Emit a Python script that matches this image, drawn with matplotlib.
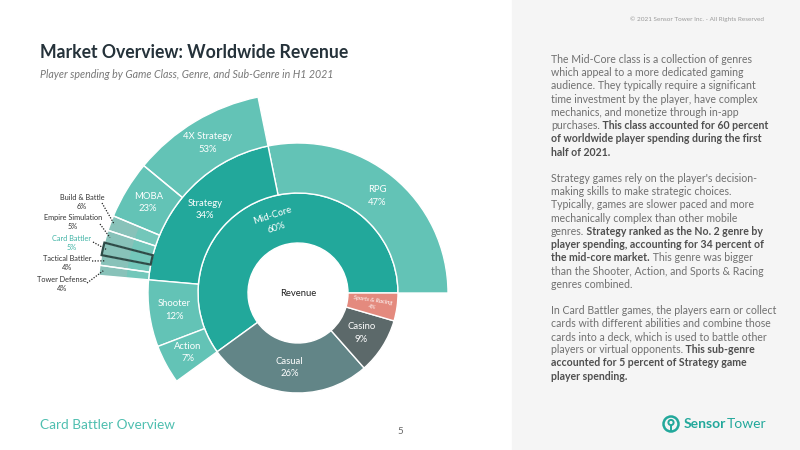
import numpy as np
import matplotlib.pyplot as plt
from matplotlib.patches import Rectangle, Circle

plt.rcParams['font.family'] = ['Lato', 'DejaVu Sans']

# data
classes = ['Mid-Core', 'Casual', 'Casino', 'Sports & Racing']
class_share = [60, 26.5, 9, 4.5]
class_pct = ['60%', '26%', '9%', '4%']

genres = ['RPG', 'Strategy', 'Shooter', 'Action']
genre_share = [47, 34, 12, 7]          # % of Mid-Core

subgenres = ['4X Strategy', 'MOBA', 'Build & Battle', 'Empire Simulation',
             'Card Battler', 'Tactical Battler', 'Tower Defense']
subgenre_share = [53, 23, 6, 5, 5, 4, 4]  # % of Strategy

TEAL = '#22a89b'
LIGHT = '#63c3b6'
class_colors = [TEAL, '#628587', '#5c696a', '#e48a7e']
genre_colors = [LIGHT, TEAL, LIGHT, LIGHT]

W, H = 800, 450
CX, CY = 298, 293
fig = plt.figure(figsize=(8, 4.5), dpi=100)
bg = fig.add_axes([0, 0, 1, 1])
bg.set_xlim(0, W)
bg.set_ylim(H, 0)
bg.axis('off')
bg.add_patch(Rectangle((512, 0), 288, 450, color='#f5f5f5', zorder=0))

# sunburst axes, 1 data unit = 1 pixel
S = 215
ax = fig.add_axes([(CX - S) / W, (H - CY - S) / H, 2 * S / W, 2 * S / H])

edge = dict(edgecolor='white', linewidth=1)

# ring 1: game class
ax.pie(class_share, radius=100, startangle=0, counterclock=True,
       colors=class_colors, wedgeprops=dict(width=50, **edge))

# ring 2: genres inside Mid-Core
mc = class_share[0] / sum(class_share)
g_sizes = [mc * g / 100 for g in genre_share] + [1 - mc]
w2, _ = ax.pie(g_sizes, radius=150, startangle=0, counterclock=True,
               colors=genre_colors + ['white'], wedgeprops=dict(width=50, **edge))
w2[-1].set_visible(False)

# ring 3: sub-genres inside Strategy
pre = mc * genre_share[0] / 100
st = mc * genre_share[1] / 100
s_sizes = [pre] + [st * s / 100 for s in subgenre_share] + [1 - pre - st]
small = [s < 10 for s in subgenre_share]
outer_cols = ['white'] + [('#88c2b9' if sm else LIGHT) for sm in small] + ['white']
inner_cols = ['white'] + [('#73c7ba' if sm else LIGHT) for sm in small] + ['white']
wa, _ = ax.pie(s_sizes, radius=200, startangle=0, counterclock=True,
               colors=outer_cols, wedgeprops=dict(width=50, linewidth=0))
wb, _ = ax.pie(s_sizes, radius=172, startangle=0, counterclock=True,
               colors=inner_cols, wedgeprops=dict(width=22, linewidth=0))
wc, _ = ax.pie(s_sizes, radius=200, startangle=0, counterclock=True,
               wedgeprops=dict(width=50, facecolor='none', **edge))
for ws in (wa, wb, wc):
    ws[0].set_visible(False)
    ws[-1].set_visible(False)
cb = wc[1 + subgenres.index('Card Battler')]
cb.set_edgecolor('#2e4c48')
cb.set_linewidth(1.6)
cb.set_zorder(5)

ax.set_xlim(-S, S)
ax.set_ylim(-S, S)
ax.axis('off')


def mids(sizes):
    c = np.cumsum(sizes) / np.sum(sizes)
    return 360 * (c - np.asarray(sizes) / np.sum(sizes) / 2)


def polar(r, a):
    return r * np.cos(np.radians(a)), r * np.sin(np.radians(a))


ax.text(0, 0, 'Revenue', ha='center', va='center', fontsize=6.8, color='#222222')

a1 = mids(class_share)
for name, pct, a in zip(classes, class_pct, a1):
    x, y = polar(75, a)
    if name == 'Mid-Core':
        ax.text(x, y, f'{name}\n{pct}', ha='center', va='center', fontsize=6.8,
                color='white', rotation=a - 90, linespacing=1.5)
    elif name == 'Sports & Racing':
        ax.text(x, y, f'{name}\n{pct}', ha='center', va='center', fontsize=4.3,
                color='white', rotation=a - 360, style='italic', linespacing=1.3)
    else:
        ax.text(x, y, f'{name}\n{pct}', ha='center', va='center', fontsize=6.8,
                color='white', linespacing=1.5)

a2 = mids(g_sizes)[:-1]
for name, pct, a in zip(genres, genre_share, a2):
    x, y = polar(125, a)
    ax.text(x, y, f'{name}\n{pct}%', ha='center', va='center', fontsize=6.8,
            color='white', linespacing=1.5)

a3 = mids(s_sizes)[1:-1]
# pixel positions of the outside labels and where their dotted leaders start
out_lab = {'Build & Battle': (82, 202, 102, 203),
           'Empire Simulation': (73, 222, 100, 224),
           'Card Battler': (72, 243, 93, 242),
           'Tactical Battler': (67, 263, 92, 261),
           'Tower Defense': (62, 284, 87, 283)}
for name, pct, a, sm in zip(subgenres, subgenre_share, a3, small):
    if not sm:
        x, y = polar(175, a)
        ax.text(x, y, f'{name}\n{pct}%', ha='center', va='center', fontsize=6.8,
                color='white', linespacing=1.5)
    else:
        lx, ly, sx, sy = out_lab[name]
        col = '#3fb3a5' if name == 'Card Battler' else '#333333'
        ax.text(lx - CX, CY - ly, f'{name}\n{pct}%', ha='center', va='center',
                fontsize=5.3, color=col, linespacing=1.4)
        ex, ey = polar(196, a)
        ax.plot([sx - CX, ex], [CY - sy, ey], ls=(0, (1, 1.2)), lw=0.9,
                color='#222222', clip_on=False)

# header
bg.text(40, 52, 'Market Overview: Worldwide Revenue', fontsize=12.7, fontweight='bold',
        color='#25323a', va='center')
bg.text(40, 75, 'Player spending by Game Class, Genre, and Sub-Genre in H1 2021',
        fontsize=7.7, style='italic', color='#777777', va='center')
bg.text(764, 19, '\u00a9 2021 Sensor Tower Inc. - All Rights Reserved', fontsize=4.6,
        color='#9a9a9a', ha='right', va='center')

# footer
bg.text(40, 425, 'Card Battler Overview', fontsize=9.8, color='#4fbfb0',
        va='center')
bg.text(400, 432, '5', fontsize=7, color='#666666', ha='center', va='center')

# right-hand commentary
paras = [
    (59.3, [[('The Mid-Core class is a collection of genres', 0)],
            [('which appeal to a more dedicated gaming', 0)],
            [('audience. They typically require a significant', 0)],
            [('time investment by the player, have complex', 0)],
            [('mechanics, and monetize through in-app', 0)],
            [('purchases.', 0), (' This class accounted for 60 percent', 1)],
            [('of worldwide player spending during the first', 1)],
            [('half of 2021.', 1)]]),
    (178.3, [[("Strategy games rely on the player's decision-", 0)],
             [('making skills to make strategic choices.', 0)],
             [('Typically, games are slower paced and more', 0)],
             [('mechanically complex than other mobile', 0)],
             [('genres.', 0), (' Strategy ranked as the No. 2 genre by', 1)],
             [('player spending, accounting for 34 percent of', 1)],
             [('the mid-core market.', 1), (' This genre was bigger', 0)],
             [('than the Shooter, Action, and Sports & Racing', 0)],
             [('genres combined.', 0)]]),
    (310.0, [[('In Card Battler games, the players earn or collect', 0)],
             [('cards with different abilities and combine those', 0)],
             [('cards into a deck, which is used to battle other', 0)],
             [('players or virtual opponents.', 0), (' This sub-genre', 1)],
             [('accounted for 5 percent of Strategy game', 1)],
             [('player spending.', 1)]]),
]
renderer = fig.canvas.get_renderer()
for y0, lines in paras:
    for i, parts in enumerate(lines):
        x = 551
        y = y0 + i * 13.25
        for txt, b in parts:
            t = bg.text(x, y, txt, fontsize=7.6, va='center', ha='left',
                        fontweight='bold' if b else 'normal',
                        color='#4f4f4f' if b else '#707070')
            x += t.get_window_extent(renderer=renderer).width

# logo
bg.add_patch(Circle((671, 424), 7.5, fill=False, lw=1.8, color=TEAL))
bg.add_patch(Circle((671, 422.5), 2.6, fill=False, lw=1.4, color=TEAL))
bg.plot([671, 671], [425, 431], color=TEAL, lw=1.4, solid_capstyle='butt')
t = bg.text(684, 424, 'Sensor', fontsize=10, fontweight='bold', color=TEAL, va='center')
x = 684 + t.get_window_extent(renderer=renderer).width
bg.text(x, 424, 'Tower', fontsize=10, color=TEAL, va='center')

fig.savefig('out.png', dpi=100)
